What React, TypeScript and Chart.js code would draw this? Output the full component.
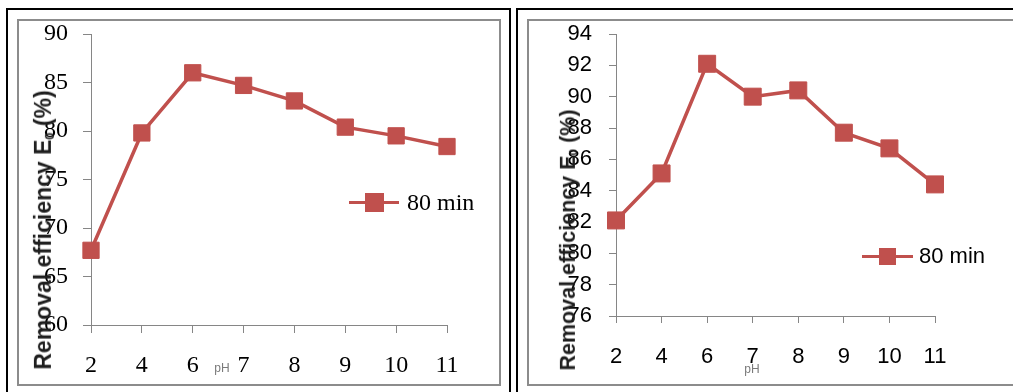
import { useEffect, useRef } from "react";
import { Chart, registerables } from "chart.js";

Chart.register(...registerables);

// pH values on the category axis
const phLabels = ["2", "4", "6", "7", "8", "9", "10", "11"];
// removal efficiency (%) after 80 min, first and second adsorbent
const removalLeft = [67.7, 79.8, 86.0, 84.7, 83.1, 80.4, 79.5, 78.4];
const removalRight = [82.1, 85.1, 92.1, 90.0, 90.4, 87.7, 86.7, 84.4];
// y-axis range: min, max, step
const leftRange = [60, 90, 5];
const rightRange = [76, 94, 2];

const seriesName = "80 min";
const yTitleMain = "Removal efficiency E";
const yTitleSub = "0";
const yTitleUnit = " (%)";
const xTitle = "pH";

const RED = "#C0504D";
const AXIS_GREY = "#868686";

type PanelSpec = {
  values: number[];
  range: number[];
  family: string;
  fontSize: number;
  width: number;
  height: number;
  top: number;
  right: number;
  yWidth: number;
  xHeight: number;
  tick: number;
  yPad: number;
  xPad: number;
  pointRadius: number;
};

function LineChart({ spec }: { spec: PanelSpec }) {
  const ref = useRef<HTMLCanvasElement>(null);
  useEffect(() => {
    const canvas = ref.current;
    if (!canvas) return;
    const s = spec;
    const font = { family: s.family, size: s.fontSize };
    const chart = new Chart(canvas, {
      type: "line",
      data: {
        labels: phLabels,
        datasets: [
          {
            label: seriesName,
            data: s.values,
            borderColor: RED,
            backgroundColor: RED,
            borderWidth: 3.5,
            pointStyle: "rect",
            pointRadius: s.pointRadius,
            pointBorderWidth: 1,
            pointBackgroundColor: RED,
            pointBorderColor: RED,
            tension: 0,
            clip: false,
          },
        ],
      },
      options: {
        responsive: false,
        maintainAspectRatio: false,
        animation: false,
        devicePixelRatio: 1,
        layout: { padding: { left: 0, top: s.top, right: s.right, bottom: 0 } },
        plugins: { legend: { display: false }, tooltip: { enabled: false } },
        scales: {
          x: {
            type: "category",
            offset: false,
            grid: {
              drawOnChartArea: false,
              drawTicks: true,
              tickLength: s.tick,
              color: AXIS_GREY,
              offset: false,
            },
            border: { color: AXIS_GREY, width: 1 },
            ticks: {
              font,
              color: "#000",
              padding: s.xPad,
              maxRotation: 0,
              autoSkip: false,
            },
            afterFit: (sc: any) => {
              sc.height = s.xHeight;
              sc.paddingLeft = 0;
              sc.paddingRight = 0;
            },
          },
          y: {
            min: s.range[0],
            max: s.range[1],
            grid: {
              drawOnChartArea: false,
              drawTicks: true,
              tickLength: s.tick,
              color: AXIS_GREY,
            },
            border: { color: AXIS_GREY, width: 1 },
            ticks: {
              stepSize: s.range[2],
              font,
              color: "#000",
              padding: s.yPad,
            },
            afterFit: (sc: any) => {
              sc.width = s.yWidth;
              sc.paddingTop = 0;
              sc.paddingBottom = 0;
            },
          },
        },
      },
    });
    return () => chart.destroy();
  }, [spec]);
  return (
    <canvas
      ref={ref}
      width={spec.width}
      height={spec.height}
      style={{ display: "block", width: spec.width, height: spec.height }}
    />
  );
}

function YTitle({ cx, cy, size }: { cx: number; cy: number; size: number }) {
  return (
    <div
      style={{
        position: "absolute",
        left: cx,
        top: cy,
        transform: "translate(-50%, -50%) rotate(-90deg)",
        whiteSpace: "nowrap",
        fontFamily: "'Liberation Sans', Arial, sans-serif",
        fontWeight: "bold",
        fontSize: size,
        lineHeight: 1,
        color: "#1e1e1e",
      }}
    >
      {yTitleMain}
      <sub style={{ fontSize: "55%", verticalAlign: "-0.2em" }}>{yTitleSub}</sub>
      {yTitleUnit}
    </div>
  );
}

function XTitle({ cx, cy }: { cx: number; cy: number }) {
  return (
    <div
      style={{
        position: "absolute",
        left: cx,
        top: cy,
        transform: "translate(-50%, -50%)",
        fontFamily: "'Liberation Sans', Arial, sans-serif",
        fontSize: 12,
        lineHeight: 1,
        color: "#7a7a7a",
      }}
    >
      {xTitle}
    </div>
  );
}

function Legend({
  x0,
  x1,
  sq,
  cy,
  textX,
  family,
  size,
}: {
  x0: number;
  x1: number;
  sq: number;
  cy: number;
  textX: number;
  family: string;
  size: number;
}) {
  const mid = (x0 + x1) / 2;
  return (
    <>
      <div
        style={{
          position: "absolute",
          left: x0,
          top: cy - 1.5,
          width: x1 - x0,
          height: 3,
          background: RED,
        }}
      />
      <div
        style={{
          position: "absolute",
          left: mid - sq / 2,
          top: cy - sq / 2,
          width: sq,
          height: sq,
          background: RED,
        }}
      />
      <div
        style={{
          position: "absolute",
          left: textX,
          top: cy,
          transform: "translateY(-50%)",
          whiteSpace: "nowrap",
          fontFamily: family,
          fontSize: size,
          lineHeight: 1,
          color: "#000",
        }}
      >
        {seriesName}
      </div>
    </>
  );
}

const SERIF = "'Liberation Serif', 'Times New Roman', serif";
const SANS = "'Liberation Sans', Arial, sans-serif";

const leftSpec: PanelSpec = {
  values: removalLeft,
  range: leftRange,
  family: SERIF,
  fontSize: 24,
  width: 480,
  height: 363,
  top: 13,
  right: 52,
  yWidth: 72,
  xHeight: 59,
  tick: 8,
  yPad: 15,
  xPad: 18,
  pointRadius: 11.5,
};

const rightSpec: PanelSpec = {
  values: removalRight,
  range: rightRange,
  family: SANS,
  fontSize: 22,
  width: 484,
  height: 363,
  top: 13,
  right: 78,
  yWidth: 87,
  xHeight: 68,
  tick: 7,
  yPad: 17,
  xPad: 21,
  pointRadius: 12,
};

export default function App() {
  return (
    <div
      style={{
        position: "fixed",
        left: 0,
        top: 0,
        width: 1013,
        height: 392,
        overflow: "hidden",
        background: "#fff",
      }}
    >
      {/* outer frames */}
      <div
        style={{
          position: "absolute",
          left: 6,
          top: 8,
          width: 501,
          height: 400,
          borderLeft: "2px solid #000",
          borderTop: "2px solid #000",
          borderRight: "2px solid #000",
        }}
      />
      <div
        style={{
          position: "absolute",
          left: 516,
          top: 8,
          width: 520,
          height: 400,
          borderLeft: "2px solid #000",
          borderTop: "2px solid #000",
        }}
      />
      {/* chart boxes */}
      <div
        style={{
          position: "absolute",
          left: 17,
          top: 19,
          width: 480,
          height: 363,
          border: "2px solid #8c8c8c",
        }}
      >
        <LineChart spec={leftSpec} />
      </div>
      <div
        style={{
          position: "absolute",
          left: 527,
          top: 19,
          width: 490,
          height: 363,
          border: "2px solid #8c8c8c",
          overflow: "hidden",
        }}
      >
        <LineChart spec={rightSpec} />
      </div>

      <YTitle cx={44} cy={230} size={23} />
      <YTitle cx={569} cy={240} size={21.5} />
      <XTitle cx={222} cy={368} />
      <XTitle cx={752} cy={369} />
      <Legend x0={349} x1={399} sq={19} cy={202} textX={407} family={SERIF} size={24} />
      <Legend x0={862} x1={913} sq={17} cy={256} textX={919} family={SANS} size={22} />
    </div>
  );
}
